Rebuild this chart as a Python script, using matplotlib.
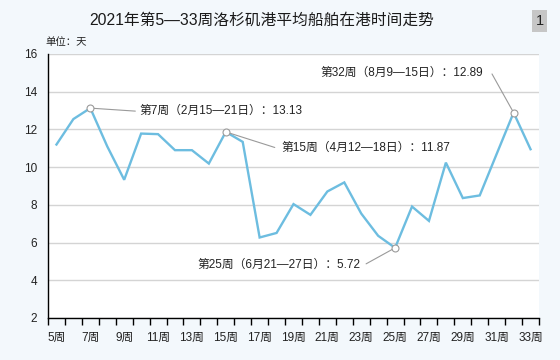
import matplotlib
matplotlib.use("Agg")
import matplotlib.pyplot as plt
import numpy as np

plt.rcParams['font.family'] = ['Liberation Sans', 'Noto Sans CJK SC', 'DejaVu Sans']

weeks = list(range(5, 34))
values = [11.2, 12.55, 13.13, 11.1, 9.33, 11.78, 11.75, 10.9, 10.9, 10.19,
          11.87, 11.34, 6.27, 6.51, 8.04, 7.47, 8.71, 9.19, 7.54, 6.36,
          5.72, 7.91, 7.15, 10.24, 8.36, 8.5, 10.7, 12.89, 10.95]
tick_labels = [f"{w}周" for w in weeks]
title = "2021年第5—33周洛杉矶港平均船舶在港时间走势"
unit = "单位：天"
annotations = {
    7: "第7周（2月15—21日）：13.13",
    15: "第15周（4月12—18日）：11.87",
    25: "第25周（6月21—27日）：5.72",
    32: "第32周（8月9—15日）：12.89",
}

bg = '#f3f8fc'
line_color = '#6dbde0'
gray = '#9a9a9a'

fig = plt.figure(figsize=(5.6, 3.6), dpi=100, facecolor=bg)
ax = fig.add_axes([48/560, 1-318/360, (539-48)/560, (318-54)/360])
ax.set_facecolor('white')

x = np.arange(len(weeks))
ax.plot(x, values, color=line_color, lw=1.7, zorder=3, solid_joinstyle='miter')

ax.set_xlim(-0.5, len(weeks) - 0.5)
ax.set_ylim(2, 16)
ax.set_yticks(np.arange(2, 17, 2))
ax.yaxis.grid(True, color='#d4d4d4', lw=1.0)
ax.set_axisbelow(True)
ax.tick_params(axis='y', length=0, pad=8, labelsize=8.5, labelcolor='#222222')

ax.set_xticks(x[::2])
ax.set_xticklabels(tick_labels[::2])
ax.set_xticks(np.arange(-0.5, len(weeks), 1), minor=True)
ax.tick_params(axis='x', which='major', length=0, pad=10, labelsize=8.5, labelcolor='#222222')
ax.tick_params(axis='x', which='minor', length=5, width=1, color='black', direction='out')

for s in ['top', 'right']:
    ax.spines[s].set_visible(False)
for s in ['left', 'bottom']:
    ax.spines[s].set_color('black')
    ax.spines[s].set_linewidth(1.0)

offsets = {
    7: ((45, -3), (49, -3), 'left'),
    15: ((49, -15.6), (55.5, -15.5), 'left'),
    25: ((-29, -16), (-35, -17), 'right'),
    32: ((-21.6, 38.7), (-31, 39.4), 'right'),
}
for w, label in annotations.items():
    i = weeks.index(w)
    pt = (x[i], values[i])
    lend, toff, ha = offsets[w]
    ax.annotate('', xy=pt, xytext=lend, textcoords='offset pixels',
                arrowprops=dict(arrowstyle='-', color=gray, lw=0.8,
                                shrinkA=0, shrinkB=0), zorder=4)
    ax.annotate(label, xy=pt, xytext=toff, textcoords='offset pixels',
                ha=ha, va='center', fontsize=8.5, color='#222222', zorder=5)
    ax.plot([pt[0]], [pt[1]], marker='o', ms=5, mfc='white', mec=gray,
            mew=0.8, zorder=6)

fig.text(262/560, 1-20/360, title, ha='center', va='center', fontsize=11.3,
         color='#1a1a1a')
fig.text(45/560, 1-42/360, unit, ha='left', va='center', fontsize=7.5,
         color='#222222')
fig.text(539.5/560, 1-21/360, "1", ha='center', va='center', fontsize=10.5,
         color='#222222',
         bbox=dict(boxstyle='square,pad=0.25', fc='#c6c6c6', ec='none'))

fig.savefig('out.png', dpi=100, facecolor=bg)
